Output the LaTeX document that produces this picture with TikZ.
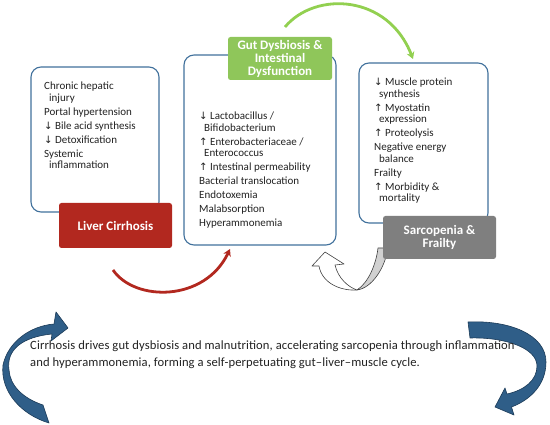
\documentclass[tikz,border=0pt]{standalone}
\usepackage{fontspec}
\setmainfont{Carlito}
\newfontfamily\sumfont{Carlito}[LetterSpace=0.8]
\newfontfamily\arw{DejaVu Sans}[Scale=0.92]
\usetikzlibrary{arrows.meta}
\definecolor{boxblue}{HTML}{41719C}
\definecolor{livred}{HTML}{B2281F}
\definecolor{gutgreen}{HTML}{8FC65A}
\definecolor{arrgreen}{HTML}{92D050}
\definecolor{sargray}{HTML}{7F7F7F}
\definecolor{cycblue}{HTML}{2F5E88}
\definecolor{cycedge}{HTML}{1B3A57}
\definecolor{txtc}{HTML}{222222}
\newcommand\myDn{{\arw ↓}}
\newcommand\myUp{{\arw ↑}}
\newcommand\wrapin{\hspace*{5pt}}
\begin{document}
\begin{tikzpicture}[x=1pt,y=-1pt,
 panel/.style={draw=boxblue, line width=1.1pt, rounded corners=10pt, anchor=north west, inner sep=0pt, outer sep=0pt, fill=white},
 tagbox/.style={rounded corners=2.5pt, anchor=north west, inner sep=0pt, outer sep=0pt, text=white, font=\fontsize{13}{13}\selectfont\bfseries, align=center},
 list/.style={anchor=north west, inner sep=0pt, align=left, text=txtc, font=\fontsize{11}{11.5}\selectfont},
 cyc/.style={fill=cycblue, draw=cycedge, line width=0.6pt, line join=round},
 flow/.style={line width=2.8pt, -{Stealth[length=7pt,width=8pt]}},
 ]
\useasboundingbox (0,0) rectangle (550,425);

% panels
\node[panel, minimum width=128pt, minimum height=145pt] (b1) at (31,67) {};
\node[panel, minimum width=152pt, minimum height=190pt] (b2) at (184,55) {};
\node[panel, minimum width=129pt, minimum height=160pt] (b3) at (359,63) {};

% lists
\node[list] (t1) at (44,82) {Chronic hepatic\\\wrapin injury\\[2.5pt]Portal hypertension\\[2.5pt]\myDn{} Bile acid synthesis\\[2.5pt]\myDn{} Detoxification\\[2.5pt]Systemic\\\wrapin inflammation};
\node[list] (t2) at (199,112) {\myDn{} Lactobacillus /\\\wrapin Bifidobacterium\\[2.5pt]\myUp{} Enterobacteriaceae /\\\wrapin Enterococcus\\[2.5pt]\myUp{} Intestinal permeability\\[2.5pt]Bacterial translocation\\[2.5pt]Endotoxemia\\[2.5pt]Malabsorption\\[2.5pt]Hyperammonemia};
\node[list] (t3) at (374,78) {\myDn{} Muscle protein\\\wrapin synthesis\\[2.5pt]\myUp{} Myostatin\\\wrapin expression\\[2.5pt]\myUp{} Proteolysis\\[2.5pt]Negative energy\\\wrapin balance\\[2.5pt]Frailty\\[2.5pt]\myUp{} Morbidity \&\\\wrapin mortality};

% curved U-turn arrow (drawn before the grey tag)
\filldraw[fill=white, draw=black!75, line width=0.6pt, line join=round]
  (312,266) -- (325,252) -- (344,264) -- (335,265)
  .. controls (338,278) and (348,287) .. (357,290)
  .. controls (340,291) and (322,283) .. (319,266) -- cycle;
\filldraw[fill=black!18, draw=black!75, line width=0.6pt, line join=round]
  (357,290) .. controls (372,288) and (385,268) .. (388,248) -- (378,248)
  .. controls (376,265) and (368,283) .. (357,290) -- cycle;

% tags
\node[tagbox, fill=livred, minimum width=113pt, minimum height=45pt] (liver) at (59,203) {Liver Cirrhosis};
\node[tagbox, fill=gutgreen, minimum width=104pt, minimum height=43pt] (gut) at (228,37) {Gut Dysbiosis \&\\Intestinal\\Dysfunction};
\node[tagbox, fill=sargray, minimum width=113pt, minimum height=43pt] (sarc) at (383,216) {Sarcopenia \&\\Frailty};

% flow arrows
\coordinate (rs) at (113,270);
\coordinate (re) at (230,249);
\draw[flow, livred] (rs) .. controls (135,302) and (205,302) .. (re);
\coordinate (gs) at (285,27);
\coordinate (ge) at (413,59);
\draw[flow, arrgreen] (gs) .. controls (315,-9) and (388,-6) .. (ge);

% bottom cycle arrows
\filldraw[cyc] (68,328) -- (56,312) -- (54,324)
  .. controls (30,326) and (8,342) .. (3,365)
  .. controls (0,392) and (22,415) .. (49,423) -- (43,405)
  .. controls (22,398) and (10,385) .. (9,370)
  .. controls (6,350) and (22,337) .. (52,334) -- (51,341) -- cycle;
\filldraw[cyc] (495,407) -- (514,415) -- (511.5,407)
  .. controls (530,400) and (546,385) .. (546,362)
  .. controls (546,335) and (510,320) .. (468,322) -- (470,338)
  .. controls (505,337) and (537,348) .. (537,366)
  .. controls (537,380) and (525,390) .. (507,394) -- (505,388) -- cycle;

\node[anchor=north west, inner sep=0pt, align=left, text=txtc, font=\sumfont\fontsize{12.6}{16.5}\selectfont] (summary) at (30,341) {Cirrhosis drives gut dysbiosis and malnutrition, accelerating sarcopenia through inflammation\\and hyperammonemia, forming a self-perpetuating gut–liver–muscle cycle.};
\end{tikzpicture}
\end{document}
